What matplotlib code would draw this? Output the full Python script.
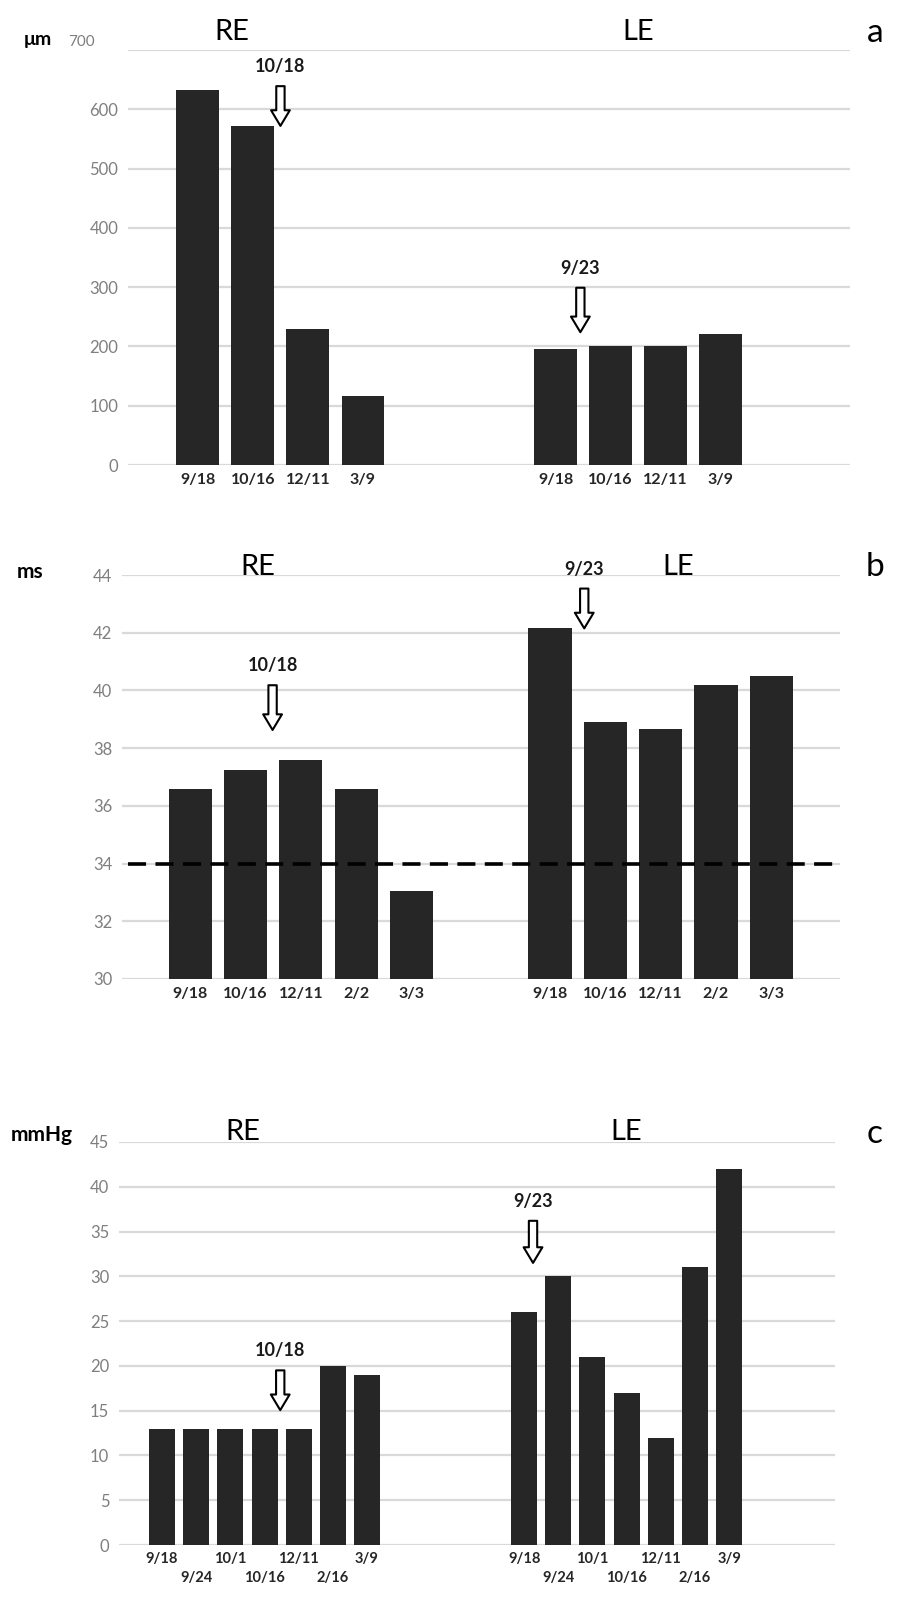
import numpy as np
import matplotlib
matplotlib.use("Agg")
import matplotlib.pyplot as plt

plt.rcParams['font.family'] = ['Lato', 'DejaVu Sans']

# ---- data ----
a_re_dates = ["9/18", "10/16", "12/11", "3/9"]
a_re_vals = [633, 572, 229, 116]
a_le_dates = ["9/18", "10/16", "12/11", "3/9"]
a_le_vals = [196, 200, 200, 221]

b_re_dates = ["9/18", "10/16", "12/11", "2/2", "3/3"]
b_re_vals = [36.6, 37.25, 37.6, 36.6, 33.05]
b_le_dates = ["9/18", "10/16", "12/11", "2/2", "3/3"]
b_le_vals = [42.15, 38.9, 38.65, 40.2, 40.5]
b_ref = 34

c_re_dates = ["9/18", "9/24", "10/1", "10/16", "12/11", "2/16", "3/9"]
c_re_vals = [13, 13, 13, 13, 13, 20, 19]
c_le_dates = ["9/18", "9/24", "10/1", "10/16", "12/11", "2/16", "3/9"]
c_le_vals = [26, 30, 21, 17, 12, 31, 42]

# arrows: (slot, tip value, tail value, label)
a_arrows = [(1.5, 572, 639, "10/18"), (6.95, 224, 299, "9/23")]
b_arrows = [(1.49, 38.63, 40.18, "10/18"), (7.12, 42.15, 43.53, "9/23")]
c_arrows = [(3.46, 15.06, 19.5, "10/18"), (10.86, 31.5, 36.2, "9/23")]

W, H = 909, 1600
BAR = "#262626"
GRID = "#d9d9d9"
TICK = "#7f7f7f"

fig = plt.figure(figsize=(W / 100, H / 100), dpi=100)


def px_axes(l, r, t, b):
    return fig.add_axes([l / W, 1 - b / H, (r - l) / W, (b - t) / H])


def ftext(x, y, s, **kw):
    fig.text(x / W, 1 - y / H, s, ha="center", va="center", **kw)


def panel(ax, re_dates, re_vals, le_dates, le_vals, le_start, width,
          ylim, ystep, xlim, arrows, two_rows=False):
    xr = np.arange(len(re_vals))
    xl = le_start + np.arange(len(le_vals))
    ax.bar(xr, re_vals, width=width, color=BAR, zorder=2)
    ax.bar(xl, le_vals, width=width, color=BAR, zorder=2)
    ax.set_xlim(*xlim)
    ax.set_ylim(*ylim)
    ticks = np.arange(ylim[0], ylim[1] + ystep / 2, ystep)
    ax.set_yticks(ticks)
    ax.set_yticklabels([f"{t:g}" for t in ticks])
    ax.yaxis.grid(True, color=GRID, lw=1.6)
    ax.set_axisbelow(True)
    for s in ax.spines.values():
        s.set_visible(False)
    pos = np.concatenate([xr, xl])
    labels = list(re_dates) + list(le_dates)
    lab_kw = dict(fontweight="bold", color="#262626")
    if two_rows:
        # alternate dates between a top and a lower row
        idx = np.concatenate([np.arange(len(re_dates)),
                              np.arange(len(le_dates))])
        top = idx % 2 == 0
        ax.set_xticks(pos[top])
        ax.set_xticklabels([l for l, t in zip(labels, top) if t],
                           fontsize=10.5, **lab_kw)
        ax.set_xticks(pos[~top], minor=True)
        ax.set_xticklabels([l for l, t in zip(labels, top) if not t],
                           minor=True, fontsize=10.5, **lab_kw)
        ax.tick_params(axis="x", which="major", length=0, pad=5)
        ax.tick_params(axis="x", which="minor", length=0, pad=19)
    else:
        ax.set_xticks(pos)
        ax.set_xticklabels(labels, fontsize=11.5, **lab_kw)
        ax.tick_params(axis="x", length=0, pad=6)
    ax.tick_params(axis="y", length=0, pad=7, labelsize=12,
                   labelcolor=TICK)
    for x, tip, tail, lab in arrows:
        ax.annotate("", xy=(x, tip), xytext=(x, tail),
                    arrowprops=dict(arrowstyle="simple,head_width=0.9,"
                                    "head_length=0.75,tail_width=0.4",
                                    mutation_scale=15, fc="white",
                                    ec="black", lw=1.5,
                                    shrinkA=0, shrinkB=0), zorder=4)
        ax.annotate(lab, xy=(x, tail), xytext=(0, 14),
                    textcoords="offset points", ha="center", va="center",
                    fontsize=13, fontweight="bold", color="#1a1a1a")


# ---- panel a ----
ax1 = px_axes(128, 850, 50, 465)
panel(ax1, a_re_dates, a_re_vals, a_le_dates, a_le_vals, 6.5, 0.78,
      (0, 700), 100, (-1.27, 11.85), a_arrows)
ax1.set_yticklabels([f"{t:g}" if t < 700 else "" for t in ax1.get_yticks()])
ftext(38, 40, "μm", fontsize=14, fontweight="bold")
ftext(81, 42, "700", fontsize=11, color=TICK)
ftext(232, 32, "RE", fontsize=21)
ftext(638, 32, "LE", fontsize=21)
ftext(875, 33, "a", fontsize=24)

# ---- panel b ----
ax2 = px_axes(122, 840, 575, 979)
panel(ax2, b_re_dates, b_re_vals, b_le_dates, b_le_vals, 6.5, 0.78,
      (30, 44), 2, (-1.23, 11.74), b_arrows)
ax2.axhline(b_ref, xmin=0.008, xmax=0.992, color="black", lw=2.6,
            dashes=(5, 2.6), zorder=3)
ftext(30, 572, "ms", fontsize=15, fontweight="bold")
ftext(258, 567, "RE", fontsize=21)
ftext(678, 567, "LE", fontsize=21)
ftext(875, 567, "b", fontsize=24)

# ---- panel c ----
ax3 = px_axes(119, 835, 1142, 1545)
panel(ax3, c_re_dates, c_re_vals, c_le_dates, c_le_vals, 10.6, 0.76,
      (0, 45), 5, (-1.26, 19.7), c_arrows, two_rows=True)
ftext(42, 1135, "mmHg", fontsize=15, fontweight="bold")
ftext(243, 1132, "RE", fontsize=21)
ftext(626, 1132, "LE", fontsize=21)
ftext(875, 1134, "c", fontsize=24)

fig.savefig("out.png", dpi=100)
